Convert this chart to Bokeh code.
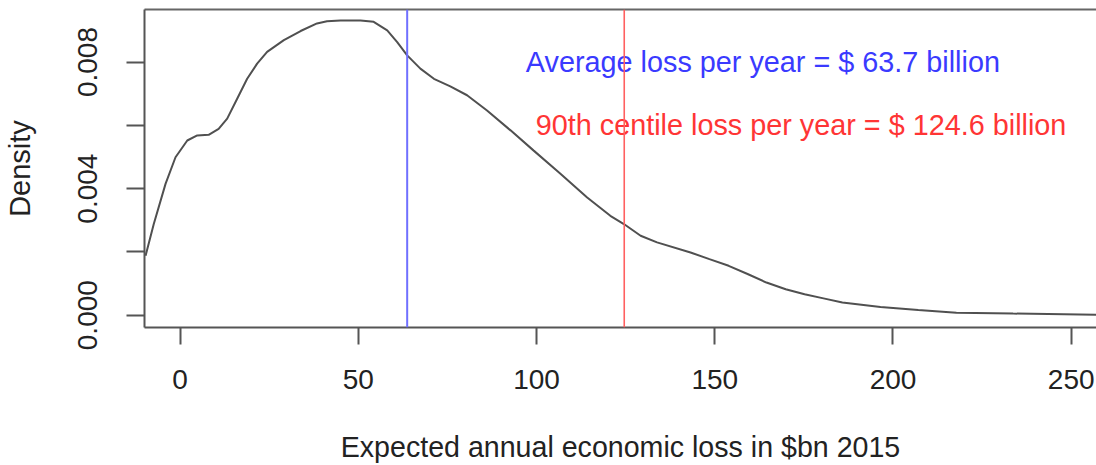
from bokeh.plotting import figure
from bokeh.models import Range1d, FixedTicker, LinearAxis, Span, ColumnDataSource
from bokeh.core.properties import value
from bokeh.embed import file_html
from bokeh.resources import INLINE

# Density curve (loss in $bn, density)
loss = [-9.7, -7.4, -4.1, -1.3, 2.0, 4.8, 8.0, 10.8, 13.2, 16.0, 18.8, 21.6, 24.4,
        29.1, 33.8, 38.4, 41.2, 45.0, 50.6, 54.3, 58.1, 60.9, 63.7, 67.4, 71.2,
        75.8, 80.5, 86.1, 92.7, 99.2, 106.7, 114.2, 120.7, 124.5, 129.2, 133.8,
        143.2, 148.5, 153.9, 159.2, 164.5, 169.9, 175.2, 180.5, 185.8, 196.5,
        207.1, 217.8, 233.7, 257.0, 262.0]
density = [0.00188, 0.00288, 0.00415, 0.00499, 0.00552, 0.00568, 0.00570, 0.00589,
           0.00621, 0.00684, 0.00747, 0.00795, 0.00832, 0.00869, 0.00898, 0.00922,
           0.00929, 0.00931, 0.00931, 0.00927, 0.00900, 0.00863, 0.00821, 0.00779,
           0.00747, 0.00723, 0.00695, 0.00647, 0.00584, 0.00520, 0.00447, 0.00372,
           0.00314, 0.00288, 0.00251, 0.00230, 0.00198, 0.00177, 0.00156, 0.00130,
           0.00103, 0.00082, 0.00066, 0.00053, 0.00040, 0.00026, 0.00016, 0.00008,
           0.00005, 0.00001, 0.00001]

mean_loss = 63.7
p90_loss = 124.6
mean_text = "Average loss per year = $ 63.7 billion"
p90_text = "90th centile loss per year = $ 124.6 billion"
label_x = [163.5, 174.2]
label_y = [0.0080, 0.0060]

x_ticks = [0, 50, 100, 150, 200, 250]
y_ticks = [0.0, 0.002, 0.004, 0.006, 0.008]
y_tick_labels = ["0.000", "", "0.004", "", "0.008"]

FONT = "Liberation Sans"
AX = "#555555"

p = figure(width=1096, height=465, output_backend="svg", toolbar_location=None,
           x_range=Range1d(-10.0, 257.1), y_range=Range1d(-0.00039, 0.00966),
           min_border_left=144, min_border_right=0, min_border_top=9,
           min_border_bottom=138)
p.outline_line_color = None
p.grid.visible = False
p.background_fill_color = "white"

p.line(loss, density, line_color="#505050", line_width=2)

p.add_layout(Span(location=mean_loss, dimension="height", line_color="#7070ff", line_width=2))
p.add_layout(Span(location=p90_loss, dimension="height", line_color="#ff6060", line_width=1.6))

src = ColumnDataSource(dict(x=label_x, y=label_y, t=[mean_text, p90_text],
                            c=["#3a3aff", "#ff3535"]))
p.text(x="x", y="y", text="t", text_color="c", source=src, text_align="center",
       text_baseline="middle", text_font=value(FONT), text_font_size="28.8px")

xa = p.xaxis[0]
xa.ticker = FixedTicker(ticks=x_ticks)
xa.minor_tick_line_color = None
xa.major_tick_in = 0
xa.major_tick_out = 17
xa.major_tick_line_color = AX
xa.major_tick_line_width = 2
xa.axis_line_color = AX
xa.axis_line_width = 2
xa.major_label_text_font = FONT
xa.major_label_text_font_size = "28px"
xa.major_label_text_color = "#222222"
xa.major_label_standoff = 25
xa.axis_label = "Expected annual economic loss in $bn 2015"
xa.axis_label_text_font = FONT
xa.axis_label_text_font_size = "28.6px"
xa.axis_label_text_font_style = "normal"
xa.axis_label_text_color = "#222222"
xa.axis_label_standoff = 39

ya = p.yaxis[0]
ya.ticker = FixedTicker(ticks=y_ticks)
ya.major_label_overrides = {t: l for t, l in zip(y_ticks, y_tick_labels)}
ya.minor_tick_line_color = None
ya.major_tick_in = 0
ya.major_tick_out = 18
ya.major_tick_line_color = AX
ya.major_tick_line_width = 2
ya.axis_line_color = AX
ya.axis_line_width = 2
ya.major_label_orientation = "parallel"
ya.major_label_text_font = FONT
ya.major_label_text_font_size = "28px"
ya.major_label_text_color = "#222222"
ya.major_label_standoff = 29
ya.axis_label = "Density"
ya.axis_label_text_font = FONT
ya.axis_label_text_font_size = "29px"
ya.axis_label_text_font_style = "normal"
ya.axis_label_text_color = "#222222"
ya.axis_label_standoff = 40

top = LinearAxis(ticker=FixedTicker(ticks=[]), axis_line_color="#666666", axis_line_width=2,
                 major_tick_out=0, major_tick_in=0, major_label_standoff=0,
                 minor_tick_line_color=None)
p.add_layout(top, "above")

open("out.html", "w").write(file_html(p, INLINE))
